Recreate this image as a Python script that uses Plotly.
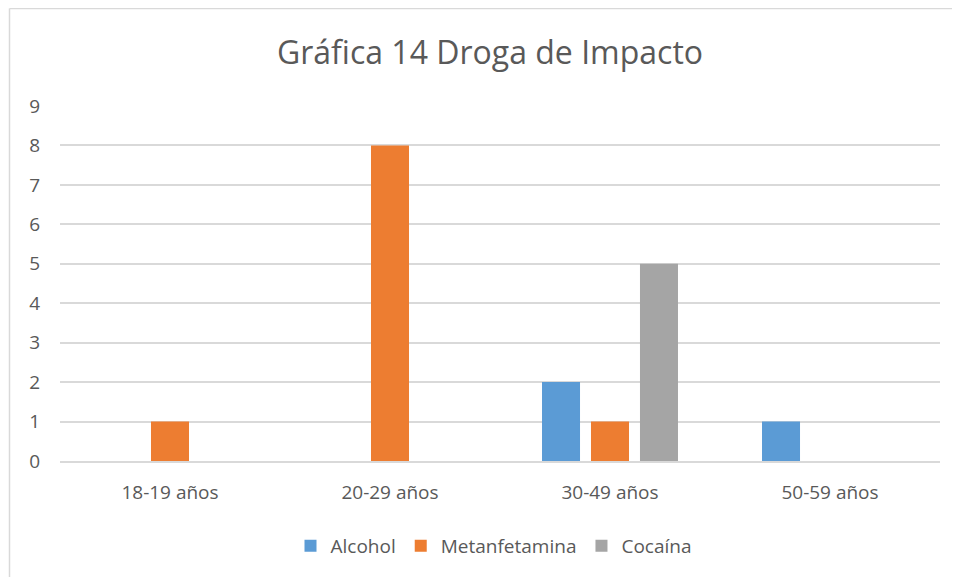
import plotly.graph_objects as go

# Data
categorias = ['18-19 años', '20-29 años', '30-49 años', '50-59 años']
alcohol = [0, 0, 2, 1]
metanfetamina = [1, 8, 1, 0]
cocaina = [0, 0, 5, 0]
y_ticks = list(range(0, 10))

font_family = 'Open Sans, Noto Sans, sans-serif'
text_color = '#595959'
grid_color = '#d9d9d9'

fig = go.Figure()
for nombre, valores, color in [('Alcohol', alcohol, '#5B9BD5'),
                               ('Metanfetamina', metanfetamina, '#ED7D31'),
                               ('Cocaína', cocaina, '#A5A5A5')]:
    fig.add_trace(go.Bar(x=categorias, y=valores, name=nombre,
                         marker=dict(color=color, line=dict(width=0))))

# page body has an 8px margin, so the figure is drawn 8px in from the window edge
OFF = 8
W, H = 960 - OFF, 577 - OFF
L, R, T, B = 60 - OFF, 20, 106 - OFF, 116
pw, ph = W - L - R, H - T - B

def px_x(x):
    return (x - OFF - L) / pw

def px_y(y):
    return (H - B - (y - OFF)) / ph

# -------- light chart-area border (only left/top edges show in the picture) --------
fig.add_shape(type='line', xref='paper', yref='paper',
              x0=px_x(9.5), x1=px_x(9.5), y0=px_y(600), y1=px_y(8.5),
              line=dict(color=grid_color, width=1.5))
fig.add_shape(type='line', xref='paper', yref='paper',
              x0=px_x(9.5), x1=px_x(980), y0=px_y(8.5), y1=px_y(8.5),
              line=dict(color=grid_color, width=1.5))

fig.update_layout(
    width=W, height=H,
    margin=dict(l=L, r=R, t=T, b=B),
    paper_bgcolor='white',
    plot_bgcolor='white',
    barmode='group',
    bargap=0.332,
    bargroupgap=0.224,
    font=dict(family=font_family, size=19, color=text_color),
    title=dict(text='Gráfica 14 Droga de Impacto', x=(490 - OFF) / W, xanchor='center',
               y=1 - (53 - OFF) / H, yanchor='middle', yref='container',
               font=dict(size=32, color=text_color)),
    legend=dict(orientation='h', x=(494 - OFF) / W, xanchor='center', xref='container',
                y=1 - (546 - OFF) / H, yanchor='middle', yref='container',
                font=dict(size=19, color=text_color), itemwidth=30),
    showlegend=True,
)
fig.update_xaxes(showgrid=False, showline=True, linecolor=grid_color, linewidth=1.5,
                 ticks='', ticklabelstandoff=13, tickfont=dict(size=19, color=text_color))
fig.update_yaxes(range=[0, 9], tickvals=y_ticks, showgrid=True, gridcolor=grid_color,
                 gridwidth=1.5, zeroline=False, showline=False, ticks='',
                 ticklabelstandoff=19, tickfont=dict(size=19, color=text_color))

fig.write_html('out.html')
